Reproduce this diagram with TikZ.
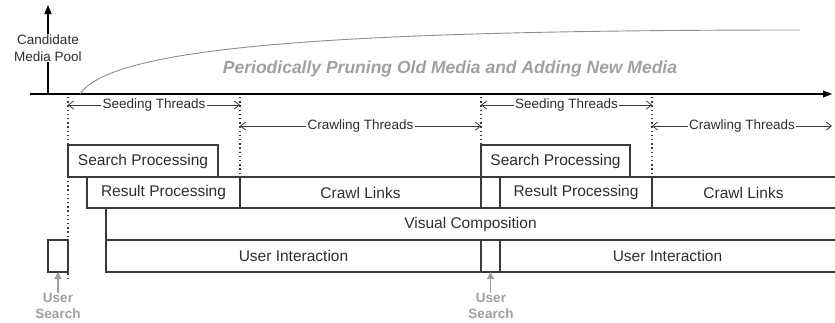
\documentclass[tikz,border=0pt]{standalone}
\usepackage{fontspec}
\setmainfont{Liberation Sans}
\usetikzlibrary{arrows.meta}
\definecolor{boxc}{HTML}{3A3A3A}
\definecolor{txt}{HTML}{2E2E2E}
\definecolor{lgray}{HTML}{A0A0A0}
\definecolor{cgray}{HTML}{8E8E8E}
\begin{document}
\begin{tikzpicture}[x=1pt,y=-1pt,
  box/.style={draw=boxc,line width=1.3pt,rectangle,inner sep=0pt,outer sep=0pt,
    font=\fontsize{15.5}{18}\selectfont,text=txt},
  openbox/.style={rectangle,inner sep=0pt,outer sep=0pt,
    font=\fontsize{15.5}{18}\selectfont,text=txt},
  edgeline/.style={draw=boxc,line width=1.3pt},
  thread/.style={draw=boxc,line width=0.8pt,
    {Straight Barb[length=5pt,width=8pt]}-{Straight Barb[length=5pt,width=8pt]}},
  tlabel/.style={fill=white,inner sep=1.5pt,font=\fontsize{13.5}{16}\selectfont,text=txt},
  marker/.style={draw=boxc,line width=1.7pt,dash pattern=on 1.4pt off 2.8pt},
  axis/.style={draw=black,line width=1.3pt,-{Triangle[length=9pt,width=7pt]}},
  usr/.style={align=center,font=\fontsize{13.5}{16.5}\selectfont\bfseries,text=lgray,inner sep=0pt},
  usrarrow/.style={draw=lgray,line width=1.3pt,-{Triangle[length=7pt,width=7pt]}}
]
\useasboundingbox (0,0) rectangle (835,322);

% axes
\coordinate (ox) at (30,94);
\coordinate (ex) at (832,94);
\coordinate (oy) at (48,94);
\coordinate (ey) at (48,5);
\draw[axis] (ox) -- (ex);
\draw[axis] (oy) -- (ey);
\node[fill=white,align=center,inner sep=1pt,font=\fontsize{13.5}{16.5}\selectfont,text=txt]
  (pool) at (48,48) {Candidate\\Media Pool};

% growth curve
\coordinate (c0) at (80,94);
\coordinate (c1) at (800,30);
\draw[cgray,line width=0.9pt] (c0) .. controls (110,50) and (300,30) .. (c1);
\node[font=\fontsize{17.5}{20}\selectfont\bfseries\itshape,text=lgray] (prune) at (450,69)
  {Periodically Pruning Old Media and Adding New Media};

% dotted markers
\coordinate (d1t) at (68,97);  \coordinate (d1b) at (68,280);
\coordinate (d2t) at (240,97); \coordinate (d2b) at (240,177);
\coordinate (d3t) at (481,97); \coordinate (d3b) at (481,208);
\coordinate (d4t) at (652,97); \coordinate (d4b) at (652,177);
\draw[marker] (d1t) -- (d1b);
\draw[marker] (d2t) -- (d2b);
\draw[marker] (d3t) -- (d3b);
\draw[marker] (d4t) -- (d4b);

% thread spans
\coordinate (s1a) at (68,105);  \coordinate (s1b) at (240,105);
\coordinate (k1a) at (240,126); \coordinate (k1b) at (481,126);
\coordinate (s2a) at (481,105); \coordinate (s2b) at (652,105);
\coordinate (k2a) at (652,126); \coordinate (k2b) at (832,126);
\draw[thread] (s1a) -- node[tlabel] {Seeding Threads} (s1b);
\draw[thread] (k1a) -- node[tlabel] {Crawling Threads} (k1b);
\draw[thread] (s2a) -- node[tlabel] {Seeding Threads} (s2b);
\draw[thread] (k2a) -- node[tlabel] {Crawling Threads} (k2b);

% processing boxes
\node[box,minimum width=150pt,minimum height=32pt] (sp1) at (143,161) {Search Processing};
\node[box,minimum width=153pt,minimum height=31pt] (rp1) at (163.5,192.5) {Result Processing};
\node[box,minimum width=241pt,minimum height=31pt] (cl1) at (360.5,192.5) {Crawl Links};
\node[box,minimum width=149pt,minimum height=32pt] (sp2) at (555.5,161) {Search Processing};
\node[box,minimum width=152pt,minimum height=31pt] (rp2) at (576,192.5) {Result Processing};
\node[openbox,minimum width=183pt,minimum height=31pt] (cl2) at (743.5,192.5) {Crawl Links};
\draw[edgeline] (cl2.north east) -- (cl2.north west) -- (cl2.south west) -- (cl2.south east);

% composition and interaction rows
\node[openbox,minimum width=729pt,minimum height=32pt] (vc) at (470.5,224) {Visual Composition};
\draw[edgeline] (vc.north east) -- (vc.north west) -- (vc.south west) -- (vc.south east);
\node[box,minimum width=375pt,minimum height=32pt] (ui1) at (293.5,256) {User Interaction};
\node[box,minimum width=19pt,minimum height=32pt] (us2) at (490.5,256) {};
\node[openbox,minimum width=335pt,minimum height=32pt] (ui2) at (667.5,256) {User Interaction};
\draw[edgeline] (ui2.north east) -- (ui2.north west) -- (ui2.south west) -- (ui2.south east);
\node[box,minimum width=20pt,minimum height=32pt] (us1) at (58,256) {};

% user search labels
\node[usr] (lab1) at (58,306) {User\\Search};
\node[usr] (lab2) at (491,306) {User\\Search};
\draw[usrarrow] (lab1.north) -- (us1.south);
\draw[usrarrow] (lab2.north -| us2.south) -- (us2.south);
\end{tikzpicture}
\end{document}
